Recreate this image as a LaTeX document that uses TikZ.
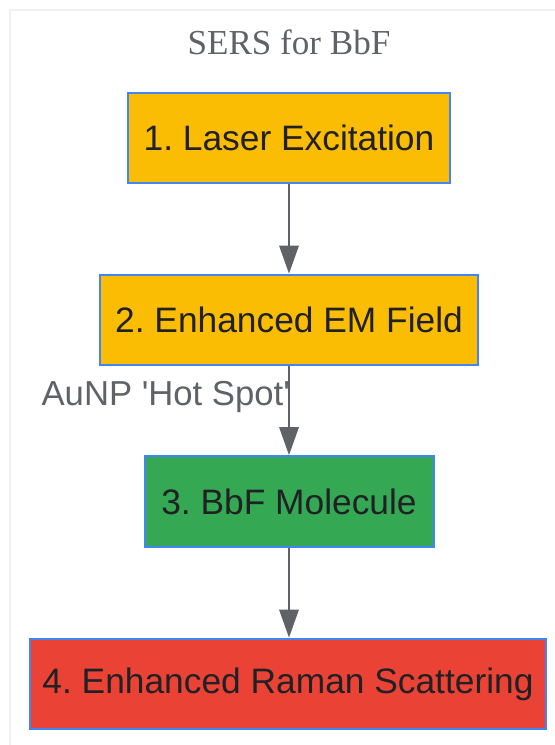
\documentclass[tikz,border=0pt]{standalone}
\usepackage{fontspec}
\setmainfont{Liberation Sans}
\newfontfamily\titlefont{Liberation Serif}
\usetikzlibrary{arrows.meta}

\definecolor{laseryellow}{HTML}{FBBC04}
\definecolor{moleculegreen}{HTML}{34A853}
\definecolor{ramanred}{HTML}{EA4335}
\definecolor{edgeblue}{HTML}{4285F4}
\definecolor{inkdark}{HTML}{202124}
\definecolor{labelgrey}{HTML}{5F6368}
\definecolor{framegrey}{HTML}{F1F1F1}

\tikzset{
	stepbox/.style={draw=edgeblue, line width=1.5pt, text=inkdark, inner sep=0pt,
		minimum height=68pt, font=\fontsize{26.5}{31}\selectfont},
	flow/.style={draw=labelgrey, line width=1.6pt, -{Triangle[width=14.5pt,length=21pt]}},
	greytext/.style={text=labelgrey, inner sep=0pt},
}

\begin{document}
\frenchspacing
\begin{tikzpicture}[x=0.75pt, y=-0.75pt]
			%%%%% START %%%%%
			
			\useasboundingbox (0, 0) rectangle (554, 745);
			\draw[draw=framegrey, line width=1.5pt, fill=white] (10, 10) rectangle (575, 765);
			
			\node[greytext, font=\titlefont\fontsize{26.3}{30}\selectfont] (title) at (289, 42) {SERS for BbF};
			
			\node[stepbox, fill=laseryellow, minimum width=241.5pt] (laser) at (289, 138) {1. Laser Excitation};
			\node[stepbox, fill=laseryellow, minimum width=283.5pt] (field) at (289, 320) {2. Enhanced EM Field};
			\node[stepbox, fill=moleculegreen, minimum width=216.75pt] (molecule) at (289, 501.5) {3. BbF Molecule};
			\node[stepbox, fill=ramanred, minimum width=387pt] (raman) at (288, 684) {4. Enhanced Raman Scattering};
			
			\draw[flow] (laser) -- (field);
			\draw[flow] (field) -- node[greytext, pos=0.31, anchor=east, xshift=1.5pt, yshift=-2pt, font=\fontsize{26}{30}\selectfont] (hotspot) {AuNP \textquotesingle Hot Spot\textquotesingle} (molecule);
			\draw[flow] (molecule) -- (raman.north -| molecule.south);
			
			%%%%% END %%%%%
\end{tikzpicture}
\end{document}
